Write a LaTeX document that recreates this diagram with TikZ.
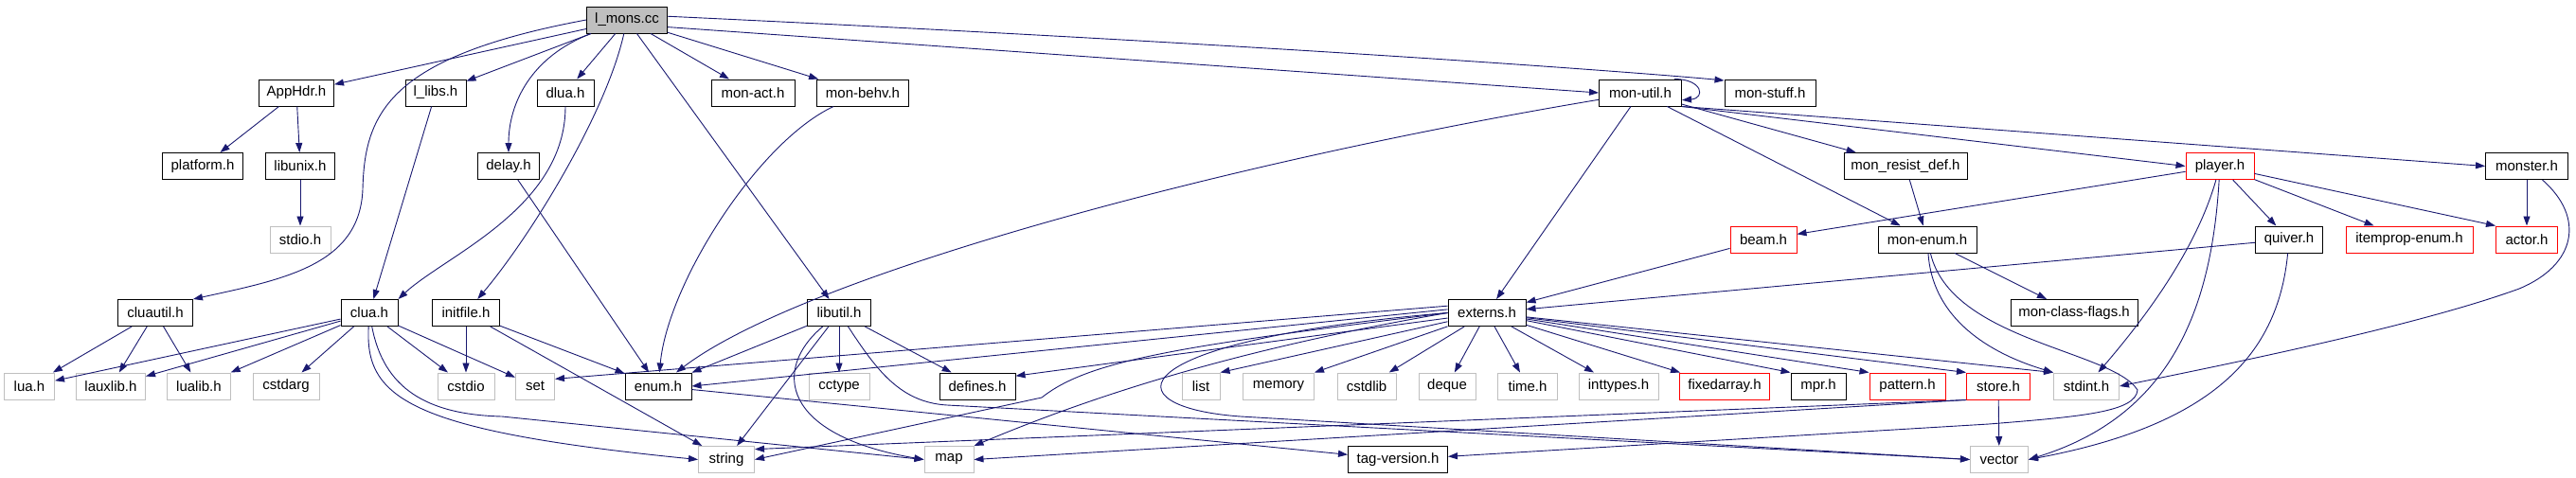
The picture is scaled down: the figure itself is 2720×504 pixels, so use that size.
\documentclass[tikz,border=0pt]{standalone}
\usepackage{fontspec}
\setmainfont{Liberation Sans}
\usetikzlibrary{arrows.meta}
\definecolor{edgeblue}{HTML}{191970}
\definecolor{sysgray}{HTML}{BFBFBF}

\begin{document}
\begin{tikzpicture}[x=1pt,y=1pt,yscale=-1,
  hdr/.style={draw=black, line width=1pt, minimum height=28pt, inner sep=0pt, font=\fontsize{15}{18}\selectfont},
  sys/.style={hdr, draw=sysgray},
  trunc/.style={hdr, draw=red},
  mainfile/.style={hdr, fill=sysgray},
  dep/.style={draw=edgeblue, line width=0.9pt, -{Triangle[length=10pt,width=7pt]}}]
\useasboundingbox (0,0) rectangle (2720,504);

% Row 0
\node [mainfile, minimum width=85pt] (lmons) at (662,21) {l\_mons.cc};
% Row 1
\node [hdr, minimum width=79pt] (apphdr) at (313,98) {AppHdr.h};
\node [hdr, minimum width=64pt] (llibs) at (460,98) {l\_libs.h};
\node [hdr, minimum width=60pt] (dlua) at (597,98) {dlua.h};
\node [hdr, minimum width=88pt] (monact) at (795,98) {mon-act.h};
\node [hdr, minimum width=97pt] (monbehv) at (911,98) {mon-behv.h};
\node [hdr, minimum width=87pt] (monutil) at (1732,98) {mon-util.h};
\node [hdr, minimum width=96pt] (monstuff) at (1869,98) {mon-stuff.h};
% Row 2
\node [hdr, minimum width=85pt] (platform) at (214,175.5) {platform.h};
\node [hdr, minimum width=73pt] (libunix) at (317,175.5) {libunix.h};
\node [hdr, minimum width=65pt] (delay) at (537,175.5) {delay.h};
\node [hdr, minimum width=130pt] (monresist) at (2012,175.5) {mon\_resist\_def.h};
\node [trunc, minimum width=72pt] (player) at (2344,175.5) {player.h};
\node [hdr, minimum width=87pt] (monster) at (2668,175.5) {monster.h};
% Row 3
\node [sys, minimum width=64pt] (stdio) at (317,253) {stdio.h};
\node [trunc, minimum width=70pt] (beam) at (1862,253) {beam.h};
\node [hdr, minimum width=104pt] (monenum) at (2035,253) {mon-enum.h};
\node [hdr, minimum width=71pt] (quiver) at (2417,253) {quiver.h};
\node [trunc, minimum width=134pt] (itemprop) at (2544,253) {itemprop-enum.h};
\node [trunc, minimum width=65pt] (actor) at (2668,253) {actor.h};
% Row 4
\node [hdr, minimum width=79pt] (cluautil) at (164,330.5) {cluautil.h};
\node [hdr, minimum width=60pt] (clua) at (390,330.5) {clua.h};
\node [hdr, minimum width=71pt] (initfile) at (492,330.5) {initfile.h};
\node [hdr, minimum width=67pt] (libutil) at (886,330.5) {libutil.h};
\node [hdr, minimum width=82pt] (externs) at (1570,330.5) {externs.h};
\node [hdr, minimum width=134pt] (monclass) at (2190,330.5) {mon-class-flags.h};
% Row 5
\node [sys, minimum width=53pt] (lua) at (31,408) {lua.h};
\node [sys, minimum width=73pt] (lauxlib) at (117,408) {lauxlib.h};
\node [sys, minimum width=67pt] (lualib) at (210,408) {lualib.h};
\node [sys, minimum width=70pt] (cstdarg) at (302,408) {cstdarg};
\node [sys, minimum width=60pt] (cstdio) at (492,408) {cstdio};
\node [sys, minimum width=41pt] (set) at (565,408) {set};
\node [hdr, minimum width=70pt] (enum) at (695,408) {enum.h};
\node [sys, minimum width=64pt] (cctype) at (886,408) {cctype};
\node [hdr, minimum width=80pt] (defines) at (1032,408) {defines.h};
\node [sys, minimum width=40pt] (list) at (1268,408) {list};
\node [sys, minimum width=75pt] (memory) at (1350,408) {memory};
\node [sys, minimum width=62pt] (cstdlib) at (1443,408) {cstdlib};
\node [sys, minimum width=60pt] (deque) at (1528,408) {deque};
\node [sys, minimum width=63pt] (timeh) at (1613,408) {time.h};
\node [sys, minimum width=84pt] (inttypes) at (1709,408) {inttypes.h};
\node [trunc, minimum width=95pt] (fixedarray) at (1821,408) {fixedarray.h};
\node [hdr, minimum width=58pt] (mpr) at (1920,408) {mpr.h};
\node [trunc, minimum width=80pt] (pattern) at (2014,408) {pattern.h};
\node [trunc, minimum width=67pt] (store) at (2110,408) {store.h};
\node [sys, minimum width=69pt] (stdint) at (2203,408) {stdint.h};
% Row 6
\node [sys, minimum width=59pt] (string) at (767,485.5) {string};
\node [sys, minimum width=52pt] (map) at (1002,485.5) {map};
\node [hdr, minimum width=105pt] (tagversion) at (1476,485.5) {tag-version.h};
\node [sys, minimum width=61pt] (vector) at (2111,485.5) {vector};

% l_mons.cc
\draw[dep] (lmons) -- (apphdr);
\draw[dep] (lmons.west) .. controls (410,60) and (385,120) .. (383,200) .. controls (380,280) and (300,295) .. (cluautil.north east);
\draw[dep] (lmons) -- (llibs);
\draw[dep] (lmons) .. controls (560,60) and (537,110) .. (delay);
\draw[dep] (lmons) -- (dlua);
\draw[dep] (lmons) .. controls (640,120) and (560,250) .. (initfile);
\draw[dep] (lmons) -- (libutil);
\draw[dep] (lmons) -- (monact);
\draw[dep] (lmons) -- (monbehv);
\draw[dep] (lmons.-10) -- (monutil.west);
\draw[dep] (lmons.5) .. controls (1400,50) and (1770,80) .. (monstuff.165);
% row 1
\draw[dep] (apphdr) -- (platform);
\draw[dep] (apphdr) -- (libunix);
\draw[dep] (libunix) -- (stdio);
\draw[dep] (llibs) -- (clua);
\draw[dep] (dlua) .. controls (597,220) and (470,270) .. (clua.north east);
\draw[dep] (delay) -- (enum);
\draw[dep] (monbehv) .. controls (800,150) and (705,300) .. (enum);
% mon-util.h
\draw[dep] (monutil.22) .. controls +(30,0) and +(25,-2) .. (monutil.-10);
\draw[dep] (monutil) .. controls (1300,170) and (850,290) .. (enum);
\draw[dep] (monutil) -- (externs);
\draw[dep] (monutil) -- (monresist);
\draw[dep] (monutil) -- (monenum);
\draw[dep] (monutil.south east) -- (player.west);
\draw[dep] (monutil.south east) -- (monster.west);
\draw[dep] (monresist) -- (monenum);
% player.h, monster.h
\draw[dep] (player) -- (beam);
\draw[dep] (player) -- (quiver);
\draw[dep] (player) -- (itemprop);
\draw[dep] (player) -- (actor.north west);
\draw[dep] (player) .. controls (2320,260) and (2270,330) .. (stdint);
\draw[dep] (player) .. controls (2335,330) and (2290,440) .. (vector.east);
\draw[dep] (monster) -- (actor);
\draw[dep] (monster) .. controls (2730,230) and (2720,280) .. (2660,305) .. controls (2550,345) and (2350,385) .. (stdint.east);
% row 3
\draw[dep] (beam) -- (externs);
\draw[dep] (monenum) -- (monclass);
\draw[dep] (monenum) .. controls (2040,330) and (2090,370) .. (stdint.north west);
\draw[dep] (monenum) .. controls (2060,360) and (2230,370) .. (2257,412) .. controls (2255,435) and (2200,440) .. (2100,448) -- (tagversion);
\draw[dep] (quiver) -- (externs);
\draw[dep] (quiver) .. controls (2405,380) and (2330,450) .. (vector.east);
% lua headers
\draw[dep] (cluautil) -- (lua);
\draw[dep] (cluautil) -- (lauxlib);
\draw[dep] (cluautil) -- (lualib);
\draw[dep] (clua) -- (lua);
\draw[dep] (clua) -- (lauxlib);
\draw[dep] (clua) -- (lualib);
\draw[dep] (clua) -- (cstdarg);
\draw[dep] (clua) -- (cstdio);
\draw[dep] (clua) -- (set);
\draw[dep] (clua) .. controls (385,420) and (430,455) .. (string.west);
\draw[dep] (clua) .. controls (405,410) and (450,438) .. (530,440) -- (map.west);
% initfile.h, libutil.h
\draw[dep] (initfile) -- (cstdio);
\draw[dep] (initfile) -- (enum);
\draw[dep] (initfile) -- (string);
\draw[dep] (libutil) -- (cctype);
\draw[dep] (libutil) -- (defines);
\draw[dep] (libutil) -- (enum);
\draw[dep] (libutil) -- (string);
\draw[dep] (libutil) .. controls (815,390) and (825,460) .. (map.west);
\draw[dep] (libutil) .. controls (925,390) and (950,425) .. (1000,428) -- (vector.west);
% externs.h
\draw[dep] (externs.170) -- (set.20);
\draw[dep] (externs.175) -- (enum.east);
\draw[dep] (externs) -- (defines.15);
\draw[dep] (externs.west) .. controls (1250,365) and (1150,380) .. (1100,420) -- (string.east);
\draw[dep] (externs.west) .. controls (1300,370) and (1150,420) .. (map.north east);
\draw[dep] (externs.west) .. controls (1180,360) and (1170,430) .. (1310,440) -- (vector.west);
\draw[dep] (externs) -- (list.north east);
\draw[dep] (externs) -- (memory.north east);
\draw[dep] (externs) -- (cstdlib);
\draw[dep] (externs) -- (deque);
\draw[dep] (externs) -- (timeh);
\draw[dep] (externs) -- (inttypes);
\draw[dep] (externs) -- (fixedarray);
\draw[dep] (externs) -- (mpr.north west);
\draw[dep] (externs) -- (pattern.north west);
\draw[dep] (externs) -- (store.north west);
\draw[dep] (externs) -- (stdint.north west);
% enum.h, store.h
\draw[dep] (enum) -- (tagversion);
\draw[dep] (store) -- (vector);
\draw[dep] (store.south west) -- (map.east);
\draw[dep] (store.south west) -- (string.20);

\end{tikzpicture}
\end{document}
